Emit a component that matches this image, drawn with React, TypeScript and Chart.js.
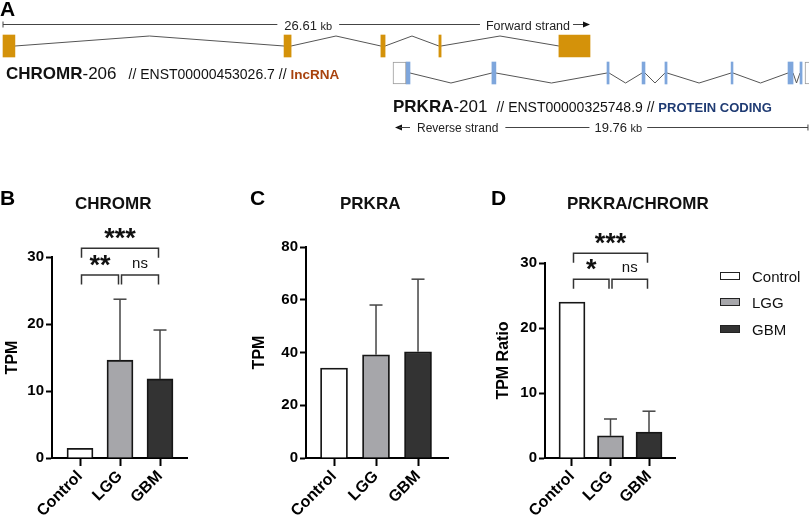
import React, { useEffect, useRef } from 'react';
import { Chart, registerables } from 'chart.js';

Chart.register(...registerables);

const FONT = '"Liberation Sans", Arial, Helvetica, sans-serif';
Chart.defaults.font.family = FONT;
Chart.defaults.color = '#000';

// ---------------- Panel A : transcript structures (kb) ----------------
const chromrSpanKb = 26.61;
const prkraSpanKb = 19.76;
const chromrExonsKb: [number, number][] = [
  [0, 0.54], [12.74, 13.06], [17.13, 17.32], [19.76, 19.86], [25.2, 26.61],
];
const prkraUtrKb: [number, number][] = [[0, 0.62], [19.62, 19.9]];
const prkraExonsKb: [number, number][] = [
  [0.62, 0.81], [4.71, 4.9], [10.19, 10.29], [11.86, 12.0], [12.95, 13.05],
  [16.1, 16.19], [18.81, 19.05], [19.38, 19.48],
];

// ---------------- Panels B-D ----------------
const groups = ['Control', 'LGG', 'GBM'];
const groupColors = ['#ffffff', '#a6a6aa', '#333333'];
const chromrTpm = [1.45, 14.6, 11.8];
const chromrSd = [0, 9.1, 7.3];
const prkraTpm = [34.1, 39.1, 40.3];
const prkraSd = [0, 18.9, 27.5];
const ratioTpm = [24.0, 3.4, 4.0];
const ratioSd = [0, 2.6, 3.2];

type Sig = { from: number; to: number; level: number; label: string };
const chromrSig: Sig[] = [
  { from: 0, to: 2, level: 31.3, label: '***' },
  { from: 0, to: 1, level: 27.3, label: '**' },
  { from: 1, to: 2, level: 27.3, label: 'ns' },
];
const ratioSig: Sig[] = [
  { from: 0, to: 2, level: 31.5, label: '***' },
  { from: 0, to: 1, level: 27.5, label: '*' },
  { from: 1, to: 2, level: 27.5, label: 'ns' },
];

// ---------------- helpers ----------------
function line(ctx: CanvasRenderingContext2D, x1: number, y1: number, x2: number, y2: number) {
  ctx.beginPath();
  ctx.moveTo(x1, y1);
  ctx.lineTo(x2, y2);
  ctx.stroke();
}

function runs(ctx: CanvasRenderingContext2D, x: number, y: number, parts: [string, string, string][]) {
  let cx = x;
  for (const [t, f, c] of parts) {
    ctx.font = f;
    ctx.fillStyle = c;
    ctx.fillText(t, cx, y);
    cx += ctx.measureText(t).width;
  }
  return cx;
}

function arrowHead(ctx: CanvasRenderingContext2D, x: number, y: number, dir: number) {
  ctx.beginPath();
  ctx.moveTo(x, y);
  ctx.lineTo(x - dir * 7, y - 3);
  ctx.lineTo(x - dir * 7, y + 3);
  ctx.closePath();
  ctx.fill();
}

// ---------------- Gene diagram ----------------
function GeneChart() {
  const ref = useRef<HTMLCanvasElement>(null);
  useEffect(() => {
    const canvas = ref.current!;
    const chromrY = 46;
    const prkraY = 73;
    const bump = 10;
    const intronPath = (exons: [number, number][], yc: number, dy: number) => {
      const pts: { x: number; y: number }[] = [];
      for (let i = 0; i < exons.length - 1; i++) {
        const a = exons[i][1];
        const b = exons[i + 1][0];
        pts.push({ x: a, y: yc }, { x: (a + b) / 2, y: yc + dy }, { x: b, y: yc });
      }
      return pts;
    };
    const exonBars = (exons: [number, number][], yc: number) => exons.map(([s, e]) => ({ x: [s, e], y: yc }));

    const textPlugin = {
      id: 'geneText',
      afterDraw(chart: any) {
        const ctx: CanvasRenderingContext2D = chart.ctx;
        const xs = chart.scales.x;
        const x2 = chart.scales.x2;
        ctx.save();
        ctx.textBaseline = 'alphabetic';
        ctx.textAlign = 'left';
        // panel letter
        runs(ctx, 0, 15.5, [['A', `bold 21px ${FONT}`, '#000']]);

        // CHROMR scale bar
        const gy = '#444';
        ctx.strokeStyle = gy;
        ctx.fillStyle = gy;
        ctx.lineWidth = 1;
        const c0 = xs.getPixelForValue(0);
        const c1 = xs.getPixelForValue(chromrSpanKb);
        const sy = 24.5;
        line(ctx, c0, sy - 3, c0, sy + 3);
        ctx.font = `12.5px ${FONT}`;
        const fw = ctx.measureText('Forward strand').width;
        const fEnd = c1 - 20;
        const fStart = fEnd - fw;
        ctx.fillStyle = '#222';
        ctx.fillText('Forward strand', fStart, 30);
        ctx.fillStyle = '#111';
        line(ctx, fEnd + 3, sy, c1 - 4, sy);
        arrowHead(ctx, c1, sy, 1);
        ctx.font = `13px ${FONT}`;
        const n1 = ctx.measureText('26.61 ').width;
        ctx.font = `11px ${FONT}`;
        const k1 = ctx.measureText('kb').width;
        const lw1 = n1 + k1;
        const lc1 = c0 + 0.52 * (c1 - c0);
        runs(ctx, lc1 - lw1 / 2, 30, [['26.61 ', `13px ${FONT}`, '#222'], ['kb', `11px ${FONT}`, '#222']]);
        line(ctx, c0, sy, lc1 - lw1 / 2 - 7, sy);
        line(ctx, lc1 + lw1 / 2 + 7, sy, fStart - 6, sy);

        // CHROMR label
        const e1 = runs(ctx, 6, 79, [
          ['CHROMR', `bold 17px ${FONT}`, '#111'],
          ['-206', `17px ${FONT}`, '#111'],
        ]);
        runs(ctx, e1 + 12, 79, [
          ['// ENST00000453026.7 // ', `14px ${FONT}`, '#111'],
          ['lncRNA', `bold 13.5px ${FONT}`, '#a8420d'],
        ]);

        // PRKRA label
        const p0 = x2.getPixelForValue(0);
        const p1 = x2.getPixelForValue(prkraSpanKb);
        const e2 = runs(ctx, p0, 112, [
          ['PRKRA', `bold 17px ${FONT}`, '#111'],
          ['-201', `17px ${FONT}`, '#111'],
        ]);
        runs(ctx, e2 + 9, 112, [
          ['// ENST00000325748.9 // ', `14px ${FONT}`, '#111'],
          ['PROTEIN CODING', `bold 13px ${FONT}`, '#1f3b73'],
        ]);

        // PRKRA scale bar
        const ry = 127.5;
        ctx.strokeStyle = gy;
        ctx.fillStyle = '#111';
        arrowHead(ctx, p0 + 2, ry, -1);
        line(ctx, p0 + 6, ry, p0 + 17, ry);
        ctx.font = `12px ${FONT}`;
        ctx.fillStyle = '#222';
        const rStart = p0 + 24;
        ctx.fillText('Reverse strand', rStart, 131.5);
        const rw = ctx.measureText('Reverse strand').width;
        ctx.font = `13px ${FONT}`;
        const n2 = ctx.measureText('19.76 ').width;
        ctx.font = `11px ${FONT}`;
        const k2 = ctx.measureText('kb').width;
        const lw2 = n2 + k2;
        const lc2 = p0 + 0.543 * (p1 - p0);
        runs(ctx, lc2 - lw2 / 2, 131.5, [['19.76 ', `13px ${FONT}`, '#222'], ['kb', `11px ${FONT}`, '#222']]);
        ctx.strokeStyle = gy;
        line(ctx, rStart + rw + 7, ry, lc2 - lw2 / 2 - 5, ry);
        line(ctx, lc2 + lw2 / 2 + 5, ry, p1, ry);
        line(ctx, p1, ry - 3, p1, ry + 3);
        ctx.restore();
      },
    };

    const barBase = {
      type: 'bar' as const,
      indexAxis: 'y' as const,
      grouped: false,
      barThickness: 22,
      borderSkipped: false,
      order: 0,
    };
    const lineBase = {
      type: 'line' as const,
      borderColor: '#555',
      borderWidth: 1,
      pointRadius: 0,
      tension: 0,
      fill: false,
      order: 1,
    };

    const chart = new Chart(canvas, {
      type: 'bar',
      data: {
        datasets: [
          { ...barBase, xAxisID: 'x', yAxisID: 'y', data: exonBars(chromrExonsKb, chromrY), backgroundColor: '#d4920a', borderWidth: 0 } as any,
          { ...barBase, xAxisID: 'x2', yAxisID: 'y', data: exonBars(prkraUtrKb, prkraY), backgroundColor: '#ffffff', borderColor: '#9a9a9a', borderWidth: 1 } as any,
          { ...barBase, xAxisID: 'x2', yAxisID: 'y', data: exonBars(prkraExonsKb, prkraY), backgroundColor: '#7ea6dc', borderWidth: 0 } as any,
          { ...lineBase, xAxisID: 'x', yAxisID: 'y', data: intronPath(chromrExonsKb, chromrY, -bump) } as any,
          { ...lineBase, xAxisID: 'x2', yAxisID: 'y', data: intronPath(prkraExonsKb, prkraY, bump) } as any,
        ],
      },
      options: {
        responsive: false,
        maintainAspectRatio: false,
        animation: false,
        events: [],
        layout: { padding: 0 },
        plugins: { legend: { display: false }, tooltip: { enabled: false } },
        scales: {
          x: { type: 'linear', axis: 'x', display: false, stacked: false, offset: false, min: -3 / 22.06, max: (809 - 3) / 22.06 },
          x2: { type: 'linear', axis: 'x', display: false, stacked: false, offset: false, min: -393 / 21.0, max: (809 - 393) / 21.0 },
          y: { type: 'linear', axis: 'y', display: false, min: 0, max: 140, reverse: true, offset: false },
        } as any,
      },
      plugins: [textPlugin],
    });
    return () => chart.destroy();
  }, []);
  return (
    <canvas
      ref={ref}
      width={809}
      height={140}
      style={{ position: 'absolute', left: 0, top: 0, width: 809, height: 140 }}
    />
  );
}

// ---------------- Bar panels ----------------
interface PanelSpec {
  box: { left: number; top: number; width: number; height: number };
  area: { left: number; right: number; top: number; bottom: number };
  xRange: [number, number];
  yMax: number;
  yStep: number;
  values: number[];
  errors: number[];
  barThickness: number;
  letter: string;
  letterX: number;
  title: string;
  titleX: number;
  yTitle: string;
  yTitleX: number;
  sig?: Sig[];
  legend?: { x: number; rows: number[] };
}

function BarPanel({ spec }: { spec: PanelSpec }) {
  const ref = useRef<HTMLCanvasElement>(null);
  useEffect(() => {
    const canvas = ref.current!;
    const { box, area } = spec;
    const ox = box.left;
    const oy = box.top;

    const overlay = {
      id: 'overlay',
      afterDatasetsDraw(chart: any) {
        const ctx: CanvasRenderingContext2D = chart.ctx;
        const xs = chart.scales.x;
        const ys = chart.scales.y;
        const meta = chart.getDatasetMeta(0);
        ctx.save();
        // error bars
        ctx.strokeStyle = '#444';
        ctx.lineWidth = 1.5;
        spec.values.forEach((v, i) => {
          const e = spec.errors[i];
          if (!e) return;
          const x = meta.data[i].x;
          const y0 = ys.getPixelForValue(v);
          const y1 = ys.getPixelForValue(v + e);
          line(ctx, x, y0, x, y1);
          line(ctx, x - 6.5, y1, x + 6.5, y1);
        });
        // significance brackets
        if (spec.sig) {
          ctx.strokeStyle = '#333';
          ctx.lineWidth = 1.5;
          for (const s of spec.sig) {
            const xa = xs.getPixelForValue(s.from) + 1.5;
            const xb = xs.getPixelForValue(s.to) - 1.5;
            const yl = ys.getPixelForValue(s.level);
            ctx.beginPath();
            ctx.moveTo(xa, yl + 9.5);
            ctx.lineTo(xa, yl);
            ctx.lineTo(xb, yl);
            ctx.lineTo(xb, yl + 9.5);
            ctx.stroke();
            const cx = (xa + xb) / 2;
            ctx.fillStyle = '#111';
            ctx.textAlign = 'center';
            if (s.label === 'ns') {
              ctx.font = `15px ${FONT}`;
              ctx.textBaseline = 'alphabetic';
              ctx.fillText('ns', cx, yl - 7.5);
            } else {
              ctx.font = `bold 27px ${FONT}`;
              ctx.textBaseline = 'alphabetic';
              const m = ctx.measureText(s.label);
              const cy = yl - 14.5;
              const base = cy + (m.actualBoundingBoxAscent - m.actualBoundingBoxDescent) / 2;
              ctx.fillText(s.label, cx, base);
            }
          }
        }
        ctx.restore();
      },
      afterDraw(chart: any) {
        const ctx: CanvasRenderingContext2D = chart.ctx;
        ctx.save();
        ctx.textAlign = 'left';
        ctx.textBaseline = 'alphabetic';
        ctx.fillStyle = '#000';
        ctx.font = `bold 21px ${FONT}`;
        ctx.fillText(spec.letter, spec.letterX - ox, 205 - oy);
        ctx.fillStyle = '#111';
        ctx.font = `bold 17px ${FONT}`;
        ctx.fillText(spec.title, spec.titleX - ox, 208.5 - oy);
        if (spec.legend) {
          const lg = spec.legend;
          groups.forEach((g, i) => {
            const cy = lg.rows[i] - oy;
            const bx = lg.x - ox;
            ctx.fillStyle = groupColors[i];
            ctx.fillRect(bx, cy - 4, 20, 8);
            ctx.strokeStyle = '#222';
            ctx.lineWidth = 1;
            ctx.strokeRect(bx + 0.5, cy - 3.5, 19, 7);
            ctx.fillStyle = '#111';
            ctx.font = `15px ${FONT}`;
            ctx.fillText(g, bx + 32, cy + 5.5);
          });
        }
        ctx.restore();
      },
    };

    const titleFontSize = 16;
    const chart = new Chart(canvas, {
      type: 'bar',
      data: {
        datasets: [
          {
            data: spec.values.map((v, i) => ({ x: i, y: v })),
            backgroundColor: groupColors,
            borderColor: '#161616',
            borderWidth: 1.8,
            barThickness: spec.barThickness,
          } as any,
        ],
      },
      options: {
        responsive: false,
        maintainAspectRatio: false,
        animation: false,
        events: [],
        layout: {
          padding: {
            left: 0,
            top: area.top - oy,
            right: ox + box.width - area.right,
            bottom: 0,
          },
        },
        plugins: { legend: { display: false }, tooltip: { enabled: false } },
        scales: {
          x: {
            type: 'linear',
            min: spec.xRange[0],
            max: spec.xRange[1],
            offset: false,
            afterBuildTicks: (s: any) => {
              s.ticks = groups.map((_, i) => ({ value: i }));
            },
            afterFit: (s: any) => {
              s.height = oy + box.height - area.bottom;
            },
            grid: {
              display: true,
              offset: false,
              drawOnChartArea: false,
              drawTicks: true,
              tickLength: 8,
              tickWidth: 2,
              tickColor: '#000',
            },
            border: { display: true, color: '#000', width: 2 },
            ticks: {
              autoSkip: false,
              maxRotation: 45,
              minRotation: 45,
              padding: 1,
              color: '#000',
              font: { size: 16, weight: 'bold' },
              callback: (v: any) => groups[v as number] ?? '',
            },
          },
          y: {
            type: 'linear',
            min: 0,
            max: spec.yMax,
            afterFit: (s: any) => {
              s.width = area.left - ox;
            },
            grid: {
              display: true,
              drawOnChartArea: false,
              drawTicks: true,
              tickLength: 6,
              tickWidth: 2,
              tickColor: '#000',
            },
            border: { display: true, color: '#000', width: 2 },
            ticks: {
              stepSize: spec.yStep,
              padding: 2,
              color: '#000',
              font: { size: 15, weight: 'bold' },
            },
            title: {
              display: true,
              text: spec.yTitle,
              color: '#000',
              font: { size: titleFontSize, weight: 'bold' },
              padding: { top: spec.yTitleX - ox - (titleFontSize * 1.2) / 2, bottom: 0 },
            },
          },
        } as any,
      },
      plugins: [overlay],
    });
    return () => chart.destroy();
  }, [spec]);
  const { box } = spec;
  return (
    <canvas
      ref={ref}
      width={box.width}
      height={box.height}
      style={{ position: 'absolute', left: box.left, top: box.top, width: box.width, height: box.height }}
    />
  );
}

const panelB: PanelSpec = {
  box: { left: 0, top: 140, width: 230, height: 379 },
  area: { left: 52, right: 187, top: 257, bottom: 458 },
  xRange: [-0.7, 2.675],
  yMax: 30,
  yStep: 10,
  values: chromrTpm,
  errors: chromrSd,
  barThickness: 26,
  letter: 'B',
  letterX: 0,
  title: 'CHROMR',
  titleX: 75,
  yTitle: 'TPM',
  yTitleX: 13,
  sig: chromrSig,
};

const panelC: PanelSpec = {
  box: { left: 230, top: 140, width: 240, height: 379 },
  area: { left: 306, right: 448, top: 247, bottom: 458 },
  xRange: [-0.667, 2.714],
  yMax: 80,
  yStep: 20,
  values: prkraTpm,
  errors: prkraSd,
  barThickness: 27,
  letter: 'C',
  letterX: 250,
  title: 'PRKRA',
  titleX: 340,
  yTitle: 'TPM',
  yTitleX: 260,
};

const panelD: PanelSpec = {
  box: { left: 470, top: 140, width: 339, height: 379 },
  area: { left: 545, right: 675, top: 263, bottom: 458 },
  xRange: [-0.701, 2.675],
  yMax: 30,
  yStep: 10,
  values: ratioTpm,
  errors: ratioSd,
  barThickness: 26,
  letter: 'D',
  letterX: 491,
  title: 'PRKRA/CHROMR',
  titleX: 567,
  yTitle: 'TPM Ratio',
  yTitleX: 504,
  sig: ratioSig,
  legend: { x: 720, rows: [276, 302, 329] },
};

export default function App() {
  return (
    <div
      style={{
        position: 'fixed',
        left: 0,
        top: 0,
        width: 809,
        height: 519,
        background: '#ffffff',
        overflow: 'hidden',
      }}
    >
      <GeneChart />
      <BarPanel spec={panelB} />
      <BarPanel spec={panelC} />
      <BarPanel spec={panelD} />
    </div>
  );
}
